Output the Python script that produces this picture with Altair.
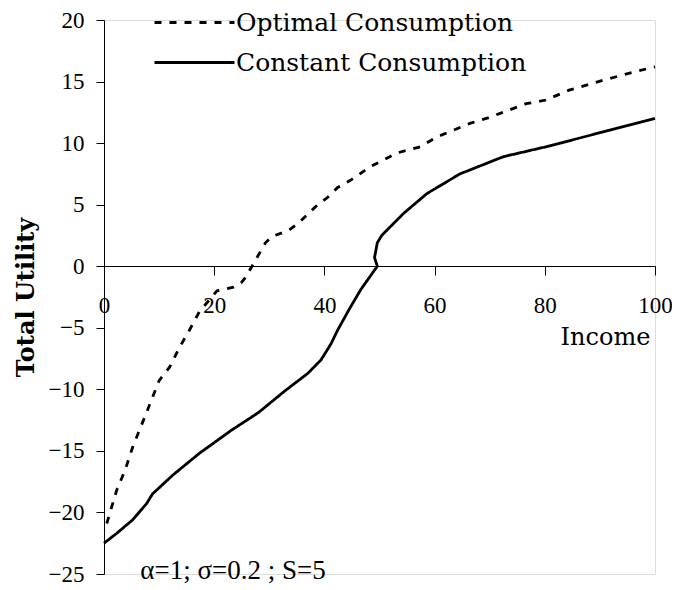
import altair as alt
import pandas as pd

# ---- data ----
opt_income = [0.5, 2.3, 3.8, 5.2, 7.7, 10, 11.9, 13.7, 15.5, 17.3, 20.5, 23.5, 25.0, 25.7,
              27.5, 29.3, 30.4, 33.5, 35.3, 38.3, 40.6, 42.4, 44.8, 48.4, 53.2, 57.4,
              60.4, 66.4, 70, 76.6, 80.2, 84.4, 90.5, 96.4, 100]
opt_utility = [-20.9, -18.2, -16.6, -14.7, -11.9, -9.3, -8.2, -6.6, -5.2, -3.7, -2.0, -1.7, -1.3, -0.9,
               0.5, 1.9, 2.4, 2.9, 3.5, 4.8, 5.6, 6.4, 7.0, 8.1, 9.2, 9.7,
               10.5, 11.6, 12.1, 13.2, 13.5, 14.3, 15.1, 15.8, 16.2]

con_income = [0, 2.3, 5.2, 7.7, 8.8, 12.4, 17.3, 23.2, 28, 32.9, 37, 39.4, 41.2, 42.4,
              44.5, 46.6, 49.6, 49.1, 49.6, 50.4, 54.4, 58.6, 64.6, 72.5, 80.2, 90.5, 100]
con_utility = [-22.5, -21.7, -20.6, -19.3, -18.5, -17.0, -15.2, -13.3, -11.9, -10.1, -8.7, -7.6, -6.3, -5.2,
               -3.5, -1.9, 0.0, 0.7, 1.9, 2.5, 4.3, 5.9, 7.5, 8.9, 9.7, 10.9, 12.0]

series_names = ["Optimal Consumption", "Constant Consumption"]
y_ticks = [-25, -20, -15, -10, -5, 0, 5, 10, 15, 20]
x_ticks = [0, 20, 40, 60, 80, 100]
note_text = "α=1; σ=0.2 ; S=5"

rows = []
for i, (x, y) in enumerate(zip(opt_income, opt_utility)):
    rows.append({"Income": x, "Utility": y, "series": series_names[0], "idx": i})
for i, (x, y) in enumerate(zip(con_income, con_utility)):
    rows.append({"Income": x, "Utility": y, "series": series_names[1], "idx": i})
df = pd.DataFrame(rows)

W, H = 551, 554

x_enc = alt.X("Income:Q",
              scale=alt.Scale(domain=[0, 100], nice=False, zero=False),
              axis=alt.Axis(values=x_ticks, offset=-308, tickSize=9, labelPadding=19,
                            labelFont="Liberation Serif", labelFontSize=23, labelColor="black",
                            labelAngle=0, domainColor="black", tickColor="black",
                            grid=False, title="Income", titleFont="DejaVu Serif",
                            titleFontSize=24, titleFontWeight="normal", titleColor="black",
                            titleX=501, titleY=71, titleAlign="center",
                            titleBaseline="middle", labelFlush=False))
y_enc = alt.Y("Utility:Q",
              scale=alt.Scale(domain=[-25, 20], nice=False, zero=False),
              axis=alt.Axis(values=y_ticks, tickSize=8, labelPadding=12,
                            labelFont="Liberation Serif", labelFontSize=23, labelColor="black",
                            domainColor="black", tickColor="black", grid=False,
                            title="Total Utility", titleFont="DejaVu Serif", titleFontSize=24,
                            titleFontWeight="bold", titleColor="black",
                            titleX=-78, titleY=277, titleAngle=270, titleAlign="center",
                            titleBaseline="middle", labelFlush=False))

lines = alt.Chart(df).mark_line(color="black", strokeWidth=2.8).encode(
    x=x_enc,
    y=y_enc,
    order="idx:Q",
    detail="series:N",
    strokeDash=alt.StrokeDash(
        "series:N",
        scale=alt.Scale(domain=series_names, range=[[7, 8], [1, 0]]),
        legend=alt.Legend(title=None, orient="none", legendX=69, legendY=-19,
                          symbolType="M-2,0H2", symbolSize=1600, symbolStrokeWidth=3,
                          symbolStrokeColor="black", labelFont="DejaVu Serif",
                          labelFontSize=25, labelColor="black", labelOffset=20,
                          labelLimit=400, rowPadding=5, padding=0, direction="vertical"),
    ),
)

note = alt.Chart(pd.DataFrame({"t": [note_text]})).mark_text(
    font="Liberation Serif", fontSize=27, color="black", align="center", baseline="middle"
).encode(x=alt.value(129), y=alt.value(551), text="t:N")

chart = alt.layer(lines, note).properties(
    width=W, height=H,
    autosize=alt.AutoSizeParams(type="none"),
    padding={"left": 96, "top": 12, "right": 17, "bottom": 12},
).configure_view(stroke=None).configure(background="white")

chart.save("out.html", embed_options={"renderer": "svg", "actions": False})
